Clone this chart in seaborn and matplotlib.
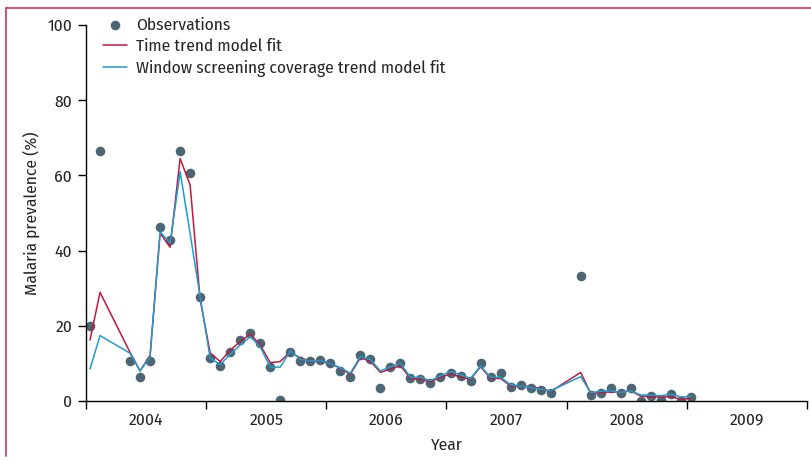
import matplotlib
matplotlib.use("Agg")
import matplotlib.pyplot as plt
import matplotlib.ticker as mticker
from matplotlib.lines import Line2D
import numpy as np
import pandas as pd
import seaborn as sns

# Months since January 2004 at which observations were made
month_index = [0, 1, 4, 5, 6, 7, 8, 9, 10, 11, 12, 13, 14, 15, 16, 17, 18, 19, 20,
               21, 22, 23, 24, 25, 26, 27, 28, 29, 30, 31, 32, 33, 34, 35, 36, 37,
               38, 39, 40, 41, 42, 43, 44, 45, 46, 49, 50, 51, 52, 53, 54, 55, 56,
               57, 58, 59, 60]

observations = [20.0, 66.4, 10.6, 6.3, 10.7, 46.3, 42.8, 66.4, 60.6, 27.7, 11.4, 9.4,
                13.0, 16.2, 18.0, 15.3, 9.0, 0.2, 13.0, 10.6, 10.6, 10.9, 10.2, 8.0,
                6.5, 12.2, 11.3, 3.4, 9.1, 10.2, 6.0, 5.8, 4.7, 6.3, 7.5, 6.6, 5.3,
                10.2, 6.5, 7.4, 3.8, 4.3, 3.4, 2.9, 2.0, 33.3, 1.6, 2.0, 3.4, 2.0,
                3.4, 0.1, 1.3, 0.3, 1.9, 0.1, 1.1]

time_trend_fit = [16.2, 28.9, 12.9, 8.0, 12.2, 44.6, 40.9, 64.5, 57.4, 27.0, 12.8, 10.5,
                  13.5, 15.8, 17.8, 14.9, 10.2, 10.5, 13.1, 11.4, 10.7, 10.5, 10.0, 8.7,
                  7.1, 11.5, 10.6, 7.6, 8.5, 9.4, 6.0, 5.8, 5.1, 6.3, 7.2, 6.4, 5.8,
                  9.1, 6.0, 6.0, 4.0, 4.0, 3.8, 3.4, 2.5, 7.6, 2.0, 2.3, 2.4, 2.4,
                  2.7, 1.3, 1.1, 1.1, 1.1, 0.5, 0.7]

window_fit = [8.5, 17.4, 12.7, 8.0, 11.8, 45.0, 42.0, 61.0, 44.5, 27.7, 11.4, 9.7,
              12.4, 14.9, 17.1, 14.4, 9.0, 9.0, 13.3, 11.1, 10.7, 10.7, 10.0, 8.8,
              7.4, 11.8, 11.0, 8.0, 9.1, 10.0, 6.3, 6.3, 5.4, 6.7, 7.8, 7.0, 6.0,
              9.3, 6.3, 6.3, 4.3, 4.0, 3.6, 3.2, 2.7, 6.5, 2.2, 2.6, 2.7, 2.3,
              2.7, 1.6, 1.6, 1.4, 1.8, 1.1, 1.2]

year_labels = ["2004", "2005", "2006", "2007", "2008", "2009"]
y_ticks = [0, 20, 40, 60, 80, 100]

start_year = 2004
df = pd.DataFrame({
    "t": [start_year + (m + 0.4) / 12 for m in month_index],
    "obs": observations,
    "time_fit": time_trend_fit,
    "window_fit": window_fit,
})

sns.set_theme(style="ticks")
plt.rcParams["font.family"] = ["Fira Sans Condensed", "PT Sans Narrow", "Asap Condensed",
                               "Barlow Semi Condensed", "Archivo Narrow", "DejaVu Sans"]

RED = "#c3173f"
BLUE = "#1c9dcc"
DOT = "#4d6673"
FRAME = "#d3325f"
FS = 12.5

fig = plt.figure(figsize=(8.11, 4.62), dpi=100)
ax = fig.add_axes([86 / 811, 1 - 401 / 462, (807 - 86) / 811, (401 - 25) / 462])

sns.scatterplot(data=df, x="t", y="obs", ax=ax, color=DOT, s=48, linewidth=0,
                zorder=2, label="Observations")
sns.lineplot(data=df, x="t", y="time_fit", ax=ax, color=RED, lw=1.1, sort=False,
             estimator=None, zorder=3, label="Time trend model fit")
sns.lineplot(data=df, x="t", y="window_fit", ax=ax, color=BLUE, lw=1.1, sort=False,
             estimator=None, zorder=4, label="Window screening coverage trend model fit")

ax.set_xlim(2004, 2010)
ax.set_ylim(0, 100)
ax.set_xticks(np.arange(2004, 2011))
ax.xaxis.set_major_formatter(mticker.NullFormatter())
ax.set_xticks(np.arange(2004.5, 2010, 1), minor=True)
ax.set_xticklabels(year_labels, minor=True)
ax.tick_params(axis="x", which="minor", length=0, pad=8, labelsize=FS)
ax.tick_params(axis="x", which="major", length=6, width=1, color="black")
ax.set_yticks(y_ticks)
ax.tick_params(axis="y", length=6, width=1, color="black", labelsize=FS, pad=4)
for s in ["left", "bottom"]:
    ax.spines[s].set_linewidth(1.0)
    ax.spines[s].set_color("black")
sns.despine(ax=ax)

ax.set_xlabel("Year", fontsize=FS, labelpad=7)
ax.set_ylabel("Malaria prevalence (%)", fontsize=FS, labelpad=5)

leg = ax.legend(loc="upper left", bbox_to_anchor=(0.014, 1.04), frameon=False,
                fontsize=FS, handlelength=1.4, handletextpad=0.5, labelspacing=0.33,
                borderaxespad=0)

# Journal frame lines (top and left)
fig.add_artist(Line2D([6 / 811, 1], [1 - 8 / 462, 1 - 8 / 462], color=FRAME, lw=1.2,
                      transform=fig.transFigure))
fig.add_artist(Line2D([6 / 811, 6 / 811], [1 - 8 / 462, 1 - 456 / 462], color=FRAME,
                      lw=1.2, transform=fig.transFigure))

fig.savefig("out.png", dpi=100)
